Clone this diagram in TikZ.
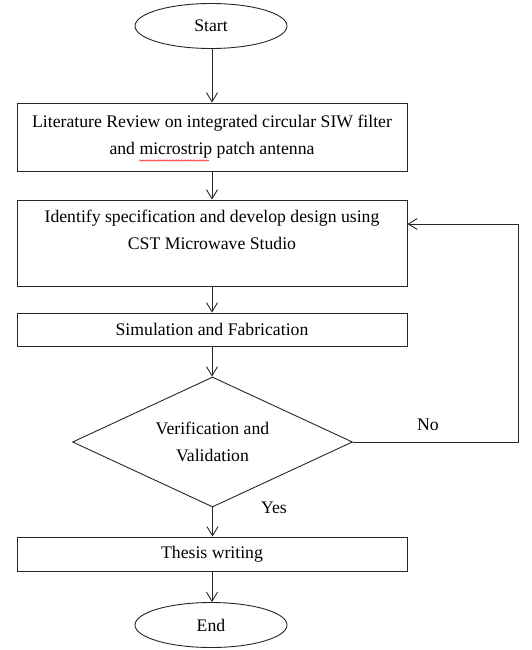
\documentclass[tikz,border=0pt]{standalone}
\usepackage{fontspec}
\setmainfont{Liberation Serif}
\usetikzlibrary{arrows.meta,shapes.geometric,decorations.pathmorphing}
\begin{document}
\begin{tikzpicture}[x=1pt,y=-1pt,
  every node/.style={font=\fontsize{17.7}{26.7}\selectfont, text=black},
  stepbox/.style={draw=black!85, line width=0.9pt, rectangle, minimum width=390pt, inner sep=0pt, align=center},
  term/.style={draw=black!85, line width=0.9pt, ellipse, minimum width=152pt, minimum height=45pt, inner sep=0pt},
  decide/.style={draw=black!85, line width=0.9pt, diamond, minimum width=280pt, minimum height=130pt, inner sep=-14pt, align=center},
  flow/.style={draw=black!85, line width=0.9pt, -{Straight Barb[length=9pt,width=11pt,line width=0.9pt]}},
  lbl/.style={inner sep=0pt}
]
\useasboundingbox (0,0) rectangle (532,650);
\node[term] (start) at (211,26) {Start};
\node[stepbox, minimum height=68pt] (b1) at (212,137) {Literature Review on integrated circular SIW filter\\and microstrip patch antenna};
\node[stepbox, minimum height=86pt] (b2) at (212,243) {Identify specification and develop design using\\CST Microwave Studio\\\mbox{}};
\node[stepbox, minimum height=33pt] (b3) at (212,329.5) {Simulation and Fabrication};
\node[decide] (d) at (212.5,442) {Verification and\\Validation};
\node[stepbox, minimum height=34pt] (b4) at (212,554) {Thesis writing};
\node[term] (end) at (211,625) {End};
\node[lbl] (no) at (428,425) {No};
\node[lbl] (yes) at (274,508) {Yes};
\coordinate (fb) at (518,224);
\draw[flow] (start.south -| b1.north) -- (b1.north);
\draw[flow] (b1.south) -- (b2.north);
\draw[flow] (b2.south) -- (b3.north);
\draw[flow] (b3.south) -- (d.north -| b3.south);
\draw[flow] (d.south) -- (b4.north -| d.south);
\draw[flow] (b4.south) -- (b4.south |- end.north);
\draw[flow] (d.east) -| (fb) -- (fb -| b2.east);
\draw[red, line width=0.5pt, decorate, decoration={snake, segment length=3pt, amplitude=0.7pt}] (139,160.5) -- (209,160.5);
\end{tikzpicture}
\end{document}
